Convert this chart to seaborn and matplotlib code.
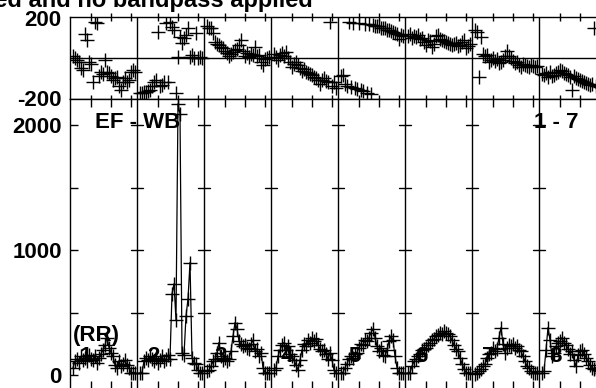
import numpy as np
import pandas as pd
import matplotlib
matplotlib.use("Agg")
import matplotlib.pyplot as plt
import seaborn as sns

# amplitude per IF, channels 1..32
amp_if1 = [60, 110, 130, 100, 150, 120, 140, 110, 160, 130, 120, 150, 100, 140, 170, 200,
           240, 300, 220, 180, 150, 80, 60, 110, 70, 90, 120, 80, 60, 20, 20, 20]
amp_if2 = [20, 20, 110, 140, 120, 150, 130, 110, 140, 100, 120, 150, 110, 130, 160, 130,
           650, 730, 440, 2170, 2090, 180, 160, 470, 610, 900, 140, 100, 90, 40, 20, 20]
amp_if3 = [30, 40, 70, 110, 130, 180, 260, 150, 120, 140, 110, 130, 190, 310, 420, 370,
           270, 250, 230, 240, 220, 210, 250, 280, 190, 210, 150, 180, 60, 20, 20, 20]
amp_if4 = [40, 60, 150, 200, 240, 260, 200, 230, 170, 150, 120, 80, 40, 120, 200, 250,
           230, 280, 260, 300, 270, 290, 240, 210, 190, 200, 170, 130, 180, 120, 40, 20]
amp_if5 = [20, 20, 60, 90, 130, 150, 140, 170, 180, 220, 250, 240, 280, 270, 300, 340,
           370, 300, 230, 190, 220, 160, 150, 200, 270, 310, 280, 150, 60, 20, 20, 20]
amp_if6 = [20, 20, 70, 110, 130, 150, 170, 200, 210, 220, 240, 260, 280, 290, 310, 320,
           340, 330, 350, 340, 330, 310, 280, 240, 210, 190, 140, 90, 50, 20, 20, 20]
amp_if7 = [10, 20, 30, 50, 70, 90, 140, 170, 180, 220, 190, 210, 300, 380, 250, 180,
           220, 240, 230, 250, 220, 230, 200, 190, 150, 110, 70, 60, 30, 20, 20, 20]
amp_if8 = [20, 30, 200, 380, 280, 150, 180, 230, 260, 270, 300, 260, 240, 210, 170, 190,
           120, 70, 160, 190, 200, 170, 140, 110, 80, 60, 50, 60, 40, 30, 20, 20]

# phase per IF (degrees)
phase_if1 = [10, 0, -10, -20, -50, -60, 120, 90, -20, -30, -120, 180, 175, -90, -70, -80,
             -10, -70, -75, -90, -110, -100, -95, -140, -160, -120, -100, -120, -110, -70, -60, -70]
phase_if2 = [-175, -175, -170, -170, -165, -160, -140, -120, -110, 130, -140, -135, -120, 175, -120, 180,
             155, 140, -175, 5, 105, 75, 100, 115, 150, 5, 15, 0, 125, 0, 5, 0]
phase_if3 = [160, 150, 150, 125, 80, 70, 65, 55, 50, 35, 25, 10, 20, 30, 40, 45,
             65, 90, 35, 10, 25, 5, 20, 15, 55, 10, 15, -20, -35, -5, 0, 5]
phase_if4 = [20, 5, -10, 15, 25, 10, 30, 0, -20, -45, -30, -20, -35, -50, -65, -55,
             -70, -75, -80, -85, -95, -100, -110, -130, -110, -100, -115, -120, 180, -140, -120, -150]
phase_if5 = [-90, -85, -130, -140, 180, -145, 175, -150, -155, 175, -160, -165, 172, -175, 170, -178,
             165, 162, 158, 160, 152, 148, 150, 142, 138, 135, 130, 125, 120, 95, 115, 110]
phase_if6 = [110, 120, 100, 110, 105, 115, 95, 100, 80, 65, 90, 85, 55, 70, 110, 115,
             95, 90, 85, 80, 75, 70, 65, 70, 75, 60, 65, 80, 90, 50, 60, 70]
phase_if7 = [140, 130, -95, 105, 20, 10, 15, -20, -10, 0, -15, -5, -25, -20, -10, 10,
             35, 10, 0, -15, -25, -20, -35, -45, -30, -35, -40, -45, -35, -40, -45, -40]
phase_if8 = [-80, -85, -75, -95, -70, -90, -85, -75, -70, -60, -65, -75, -80, -85, -95, -160,
             -90, -100, -105, -110, -115, -120, -125, -130, -135, -130, 150, -140, -140, -145, -150, -150]

amps = [amp_if1, amp_if2, amp_if3, amp_if4, amp_if5, amp_if6, amp_if7, amp_if8]
phases = [phase_if1, phase_if2, phase_if3, phase_if4, phase_if5, phase_if6, phase_if7, phase_if8]

n_chan = 32
span = 33.5  # channel units per IF panel

rows = []
for k, (a, p) in enumerate(zip(amps, phases)):
    for ch in range(1, n_chan + 1):
        rows.append({"IF": k + 1, "chan": ch, "x": k * span + 0.5 + ch,
                     "amp": a[ch - 1], "phase": p[ch - 1]})
df = pd.DataFrame(rows)

sns.set_theme(style="white")
plt.rcParams["font.family"] = ["Liberation Sans", "DejaVu Sans"]
plt.rcParams["font.weight"] = "bold"
fs = 16

W, H = 596, 388
fig = plt.figure(figsize=(W / 100, H / 100), dpi=100)
left = 70 / W
width = 8 * span * 2 / W
ax_ph = fig.add_axes([left, 1 - 99 / H, width, 82 / H])
ax_am = fig.add_axes([left, 1 - 389 / H, width, 290 / H])

xmax = 8 * span
bounds = [k * span for k in range(1, 8)]
chan_ticks = [k * span + 0.5 + c for k in range(8) for c in (10, 20, 30)]

# phase panel
sns.scatterplot(data=df, x="x", y="phase", marker="+", s=90, color="black",
                linewidth=1.0, ax=ax_ph, legend=False)
ax_ph.axhline(0, color="black", lw=1)
ax_ph.set_xlim(0, xmax)
ax_ph.set_ylim(-205, 205)
ax_ph.set_yticks([-200, 200])
ax_ph.set_yticklabels(["-200", "200"])

# amplitude panel
sns.lineplot(data=df, x="x", y="amp", units="IF", estimator=None, sort=False,
             color="black", lw=0.9, ax=ax_am, legend=False)
sns.scatterplot(data=df, x="x", y="amp", marker="+", s=90, color="black",
                linewidth=1.0, ax=ax_am, legend=False)
ax_am.set_xlim(0, xmax)
ax_am.set_ylim(-112, 2208)
ax_am.set_yticks([0, 1000, 2000])
ax_am.set_yticklabels(["0", "1000", "2000"])
ax_am.set_yticks([500, 1500], minor=True)

for b in bounds + [xmax]:
    ax_ph.axvline(b, color="black", lw=1)
    ax_am.axvline(b, color="black", lw=1)
    for lv in (500, 1000, 1500, 2000):
        ax_am.plot([b - 2.8, b + 2.8], [lv, lv], color="black", lw=1)

for ax in (ax_ph, ax_am):
    ax.set_xlabel("")
    ax.set_ylabel("")
    for s in ax.spines.values():
        s.set_color("black")
        s.set_linewidth(1)
    ax.set_xticks(chan_ticks)
    ax.set_xticklabels([])
    ax.tick_params(axis="x", which="both", direction="inout", length=6, width=1,
                   color="black", top=True, bottom=True)
    ax.tick_params(axis="y", which="both", labelsize=fs, pad=6, colors="black")

ax_ph.tick_params(axis="y", length=0)
ax_am.tick_params(axis="y", which="both", direction="in", length=6, width=1, left=True)
ax_am.tick_params(axis="x", direction="in", length=6)

# annotations
tkw = dict(fontsize=fs, fontweight="bold", color="black", zorder=20)
ax_am.text(12.5, 2016, "EF - WB", ha="left", va="center", **tkw)
ax_am.text(254.5, 2016, "1 - 7", ha="right", va="center", **tkw)
ax_am.text(1.5, 320, "(RR)", ha="left", va="center", **tkw)
for k in range(8):
    ax_am.text(k * span + 5, 152, str(k + 1), ha="left", va="center", **tkw)

fig.text(313 / W, 1 - 7 / H, "Flagging and calibration applied and no bandpass applied",
         ha="right", va="baseline", fontsize=17, fontweight="bold", color="black")

fig.savefig("out.png", dpi=100)
